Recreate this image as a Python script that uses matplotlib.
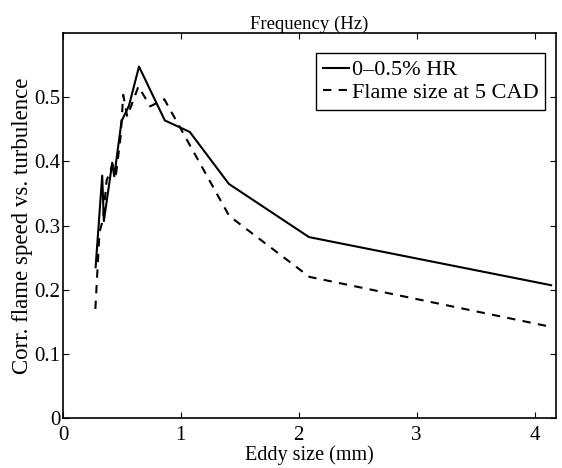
import matplotlib
matplotlib.use("Agg")
import matplotlib.pyplot as plt

# Data
solid_x = [0.277, 0.333, 0.347, 0.418, 0.435, 0.497, 0.56, 0.645, 0.864, 1.076, 1.407, 2.087, 4.14]
solid_y = [0.235, 0.378, 0.307, 0.398, 0.377, 0.463, 0.487, 0.548, 0.464, 0.446, 0.365, 0.282, 0.207]

dash_x = [0.275, 0.31, 0.34, 0.37, 0.42, 0.45, 0.49, 0.511, 0.545, 0.64, 0.74, 0.86, 1.41, 2.09, 4.14]
dash_y = [0.17, 0.29, 0.31, 0.37, 0.395, 0.38, 0.44, 0.504, 0.47, 0.517, 0.486, 0.497, 0.315, 0.22, 0.142]

series_labels = ["0\u20130.5% HR", "Flame size at 5 CAD"]
x_ticks = [0, 1, 2, 3, 4]
y_ticks = [0, 0.1, 0.2, 0.3, 0.4, 0.5]
y_ticklabels = ["0", "0.1", "0.2", "0.3", "0.4", "0.5"]

plt.rcParams['font.family'] = ['Liberation Serif', 'DejaVu Serif']

fig = plt.figure(figsize=(5.62, 4.68), dpi=100)
ax = fig.add_axes([0.112, 0.107, 0.877, 0.822])

ax.plot(solid_x, solid_y, color='black', lw=1.5, ls='-', label=series_labels[0])
ax.plot(dash_x, dash_y, color='black', lw=1.5, ls=(0, (4, 3.5)), label=series_labels[1])

ax.set_xlim(0, 4.18)
ax.set_ylim(0, 0.6)
ax.set_xticks(x_ticks)
ax.set_yticks(y_ticks)
ax.set_yticklabels(y_ticklabels)
ax.tick_params(direction='in', top=True, right=True, labelsize=15, length=4)
ax.tick_params(axis='x', pad=6)
ax.tick_params(axis='y', pad=2)
for s in ax.spines.values():
    s.set_linewidth(1.2)

ax.set_xlabel("Eddy size (mm)", fontsize=14.5, labelpad=0)
ax.set_ylabel("Corr. flame speed vs. turbulence", fontsize=16.5, labelpad=1)
ax.set_title("Frequency (Hz)", fontsize=13.5, pad=3)

leg = ax.legend(loc='upper right', bbox_to_anchor=(0.978, 0.948), fontsize=16,
                handlelength=1.2, handletextpad=0.1,
                borderpad=0.3, labelspacing=0.1, fancybox=False, framealpha=1,
                edgecolor='black', borderaxespad=0)
leg.get_frame().set_linewidth(1.0)

fig.savefig("out.png", dpi=100)
